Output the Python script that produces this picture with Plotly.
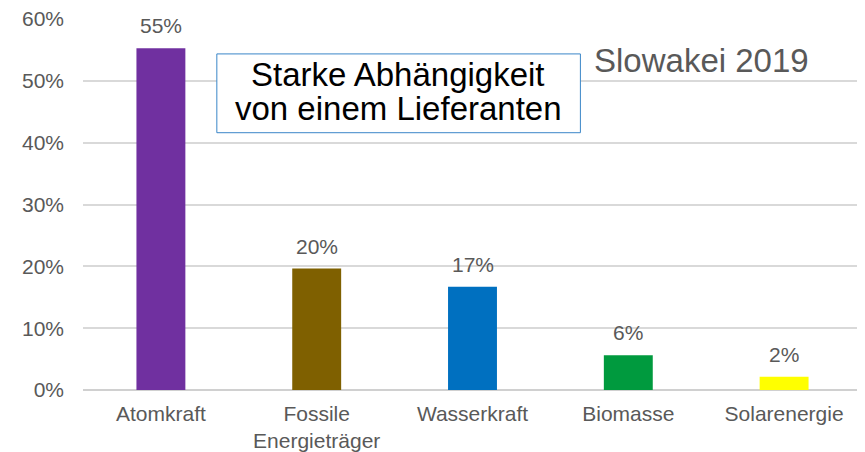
import plotly.graph_objects as go

categories = ["Atomkraft", "Fossile<br>Energieträger", "Wasserkraft", "Biomasse", "Solarenergie"]
values = [55.25, 19.65, 16.7, 5.6, 2.15]
colors = ["#7030A0", "#7F6000", "#0070C0", "#009A3E", "#FFFF00"]
y_ticks = [0, 10, 20, 30, 40, 50, 60]
y_tick_labels = ["0%", "10%", "20%", "30%", "40%", "50%", "60%"]
box_lines = ["Starke Abhängigkeit", "von einem Lieferanten"]
country_text = "Slowakei 2019"

FONT = "Liberation Sans, Arial, sans-serif"
GREY = "#595959"

fig = go.Figure()
fig.add_trace(go.Bar(x=categories, y=values, marker=dict(color=colors, line=dict(width=0)),
                     hoverinfo="skip"))

annotations = []
for c, v in zip(categories, values):
    annotations.append(dict(x=c, y=v, xref="x", yref="y", text=f"{v:.0f}%", showarrow=False,
                            yanchor="bottom", yshift=9, font=dict(family=FONT, size=21, color=GREY)))

# text box
fig.add_shape(type="rect", xref="paper", yref="paper", x0=0.1718, x1=0.6385, y0=0.6935, y1=0.9059,
              line=dict(color="#3A86C8", width=1), fillcolor="white", layer="above")
for yy, line in zip([0.850, 0.758], box_lines):
    annotations.append(dict(x=0.405, y=yy, xref="paper", yref="paper", text=line, showarrow=False,
                            xanchor="center", yanchor="middle",
                            font=dict(family=FONT, size=33, color="#000000")))
annotations.append(dict(x=0.653, y=0.887, xref="paper", yref="paper", text=country_text, showarrow=False,
                        xanchor="left", yanchor="middle",
                        font=dict(family=FONT, size=33, color=GREY)))

fig.update_layout(
    width=857, height=444,
    margin=dict(l=74.5, r=2.5, t=11, b=62, autoexpand=False),
    paper_bgcolor="white", plot_bgcolor="white",
    bargap=0.686,
    showlegend=False,
    annotations=annotations,
    xaxis=dict(showgrid=False, showline=False, ticks="", automargin=False,
               tickfont=dict(family=FONT, size=21, color=GREY), ticklabelstandoff=9),
    yaxis=dict(range=[0, 60], tickvals=y_ticks, ticktext=y_tick_labels, automargin=False,
               ticklabeloverflow="allow",
               showgrid=True, gridcolor="#D9D9D9",
               gridwidth=1.5, zeroline=True, zerolinecolor="#D0D0D0", zerolinewidth=1.5,
               tickfont=dict(family=FONT, size=21, color=GREY), ticklabelstandoff=18),
)

fig.write_html("out.html")
